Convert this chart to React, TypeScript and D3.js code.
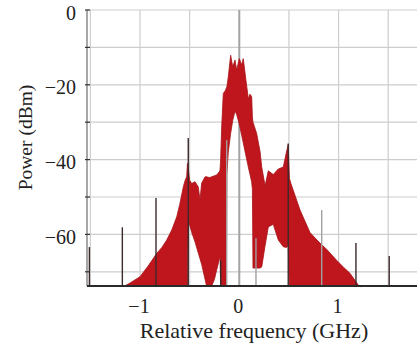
import React from 'react';
import * as d3 from 'd3';

// Spectrum envelope: frequency (GHz), upper and lower edge (dBm)
const freqs = [
  -1.17, -1.1, -1.0, -0.92, -0.832, -0.78, -0.731, -0.68, -0.63, -0.6, -0.564, -0.545,
  -0.53, -0.522, -0.515, -0.5, -0.479, -0.446, -0.413, -0.396, -0.379, -0.345, -0.33,
  -0.3, -0.278, -0.25, -0.228, -0.2, -0.194, -0.188, -0.177, -0.161, -0.14, -0.13,
  -0.125, -0.111, -0.087, -0.066, -0.043, -0.026, 0.0, 0.024, 0.04, 0.067, 0.091,
  0.108, 0.125, 0.132, 0.138, 0.175, 0.21, 0.226, 0.26, 0.292, 0.342, 0.393, 0.443,
  0.475, 0.493, 0.505, 0.52, 0.612, 0.712, 0.8, 0.88, 0.98, 1.05, 1.115, 1.2, 1.22,
];
const upperDb = [
  -74, -73, -71.3, -68.5, -65.1, -63.5, -61.5, -58.8, -55.3, -52, -47.3, -45.5,
  -44.6, -41, -42, -45.5, -46.4, -45.9, -47.3, -50.8, -46.3, -44.6, -44.6,
  -44.8, -44.6, -44.3, -44.1, -43.2, -42.8, -40, -31, -22.3, -21.5, -20.8,
  -20.5, -17.9, -12.1, -15.2, -13.4, -16.1, -13, -14.7, -13, -18.8, -23.7,
  -22.5, -23.2, -28.6, -30, -33, -38, -42, -47, -43, -44, -42.5, -42,
  -38, -36, -45, -46.4, -53.5, -59.5, -62, -64, -66.9, -68.8, -70.4, -73.6, -74,
];
const lowerDb = [
  -74, -74, -74, -74, -74, -74, -74, -74, -74, -74, -74, -74,
  -74, -74, -56, -57.5, -59.5, -62, -65, -66.5, -68, -72, -74,
  -74, -74, -72, -69.5, -66.5, -66, -74, -74, -74, -74, -74,
  -44, -38, -33, -29.5, -27, -28, -30.5, -33.5, -35.5, -39, -42,
  -44, -46, -48, -69, -69, -69, -68.7, -63, -58, -57.3, -61.5, -63.3,
  -63.5, -63, -74, -74, -74, -74, -74, -74, -74, -74, -74, -74, -74,
];

// Thin vertical spikes: frequency (GHz) and top (dBm)
const darkSpikeFreqs = [-1.51, -1.178, -0.839, -0.514, -0.187, 0.493, 1.175, 1.51];
const darkSpikeTops = [-63.4, -58.1, -50.3, -34.2, -66.9, -35.7, -62.3, -65.8];
const graySpikeFreqs = [-0.127, 0.168, 0.83];
const graySpikeTops = [-34.8, -61, -53.5];

const xGrid = [-1.5, -1, -0.5, 0, 0.5, 1, 1.5];
const yGrid = [0, -10, -20, -30, -40, -50, -60, -70];
const xTicks = [-1, 0, 1];
const yTicks = [0, -20, -40, -60];

const W = 417;
const H = 346;
const left = 87;
const right = 417;
const top = 10;
const bottom = 286;

const fmt = (v: number) => (v < 0 ? '\u2212' + Math.abs(v) : String(v));

export default function App() {
  const x = d3.scaleLinear().domain([-1.534, 1.79]).range([left, right]);
  const y = d3.scaleLinear().domain([-73.8, 0]).range([bottom, top]);

  const rows = freqs.map((f, i) => ({ f, hi: upperDb[i], lo: lowerDb[i] }));
  const area = d3
    .area<{ f: number; hi: number; lo: number }>()
    .x((d) => x(d.f))
    .y0((d) => Math.min(y(d.lo), bottom))
    .y1((d) => y(d.hi));

  return (
    <svg width={W} height={H} style={{ position: 'absolute', left: 0, top: 0, background: '#fff' }}>
      {/* grid */}
      {yGrid.map((v) => (
        <line key={'gy' + v} x1={left} x2={right} y1={y(v)} y2={y(v)} stroke="#cdcdcd" strokeWidth={1.2} />
      ))}
      {xGrid.map((v) => (
        <line
          key={'gx' + v}
          x1={x(v)}
          x2={x(v)}
          y1={top}
          y2={bottom}
          stroke={v === 0 ? '#a3a3a3' : '#cdcdcd'}
          strokeWidth={v === 0 ? 2 : 1.2}
        />
      ))}

      {/* spectrum */}
      <path d={area(rows) ?? ''} fill="#be161c" stroke="#a81217" strokeWidth={0.8} strokeLinejoin="round" />

      {/* spikes */}
      {graySpikeFreqs.map((f, i) => (
        <line key={'gs' + i} x1={x(f)} x2={x(f)} y1={y(graySpikeTops[i])} y2={bottom} stroke="#a0a0a0" strokeWidth={1.4} />
      ))}
      {darkSpikeFreqs.map((f, i) => (
        <line key={'ds' + i} x1={x(f)} x2={x(f)} y1={y(darkSpikeTops[i])} y2={bottom} stroke="#3b2a2a" strokeWidth={1.4} />
      ))}

      {/* axes */}
      <line x1={left} x2={left} y1={top} y2={bottom} stroke="#8a8a8a" strokeWidth={1.5} />
      {yGrid.map((v) => (
        <line key={'yt' + v} x1={left - 2} x2={left + 3} y1={y(v)} y2={y(v)} stroke="#333" strokeWidth={1.2} />
      ))}
      <line x1={left} x2={right} y1={bottom} y2={bottom} stroke="#2a2a2a" strokeWidth={1.8} />

      <g fontFamily="Liberation Serif" fill="#222">
        {/* tick labels */}
        {yTicks.map((v) => (
          <text key={'yl' + v} x={76} y={y(v) + 9.5} textAnchor="end" fontSize={20}>
            {fmt(v)}
          </text>
        ))}
        {xTicks.map((v) => (
          <text key={'xl' + v} x={x(v) - 1} y={313} textAnchor="middle" fontSize={20}>
            {fmt(v)}
          </text>
        ))}

        {/* titles */}
        <text x={254} y={338} textAnchor="middle" fontSize={22}>
          Relative frequency (GHz)
        </text>
        <text transform="translate(32,137.5) rotate(-90)" textAnchor="middle" fontSize={19.5}>
          Power (dBm)
        </text>
      </g>
    </svg>
  );
}
